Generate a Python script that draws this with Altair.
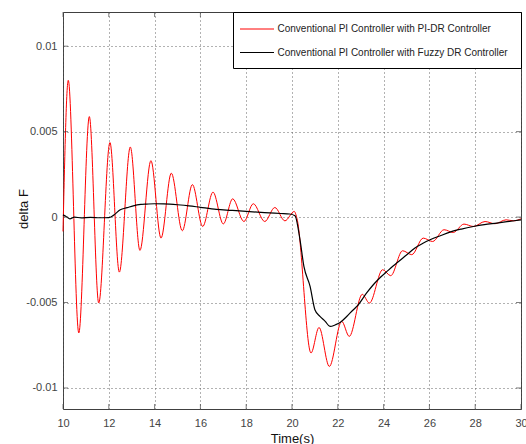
import altair as alt
import pandas as pd

# Frequency deviation responses (delta F) over time
time_pidr = [10.0, 10.23, 10.69, 11.15, 11.56, 12.05, 12.46, 12.94, 13.36, 13.84,
             14.28, 14.73, 15.21, 15.65, 16.1, 16.55, 17.0, 17.41, 17.9, 18.31,
             18.81, 19.25, 19.69, 20.1, 20.22, 20.83, 21.18, 21.63, 22.17, 22.5,
             23.07, 23.38, 23.96, 24.31, 24.83, 25.23, 25.73, 26.14, 26.64, 27.04,
             27.51, 27.92, 28.43, 28.86, 29.35, 29.67, 30.0]
delta_pidr = [-0.00084, 0.0080, -0.00678, 0.00588, -0.00503, 0.00436, -0.00322, 0.0041, -0.00195, 0.0033,
              -0.00123, 0.00257, -0.0008, 0.0019, -0.00055, 0.00146, -0.0004, 0.00107, -0.00026, 0.00078,
              -0.00026, 0.00056, -0.00022, 0.00033, -0.0001, -0.00795, -0.00646, -0.00874, -0.0061, -0.00698,
              -0.00452, -0.00503, -0.00308, -0.00343, -0.00197, -0.0022, -0.00123, -0.00143, -0.00074, -0.0009,
              -0.00041, -0.00055, -0.00026, -0.00039, -0.00016, -0.00022, -0.0001]

time_fuzzy = [10.0, 10.15, 10.3, 10.5, 10.8, 11.2, 11.6, 12.0, 12.2, 12.5,
              12.8, 13.07, 13.4, 13.65, 14.0, 14.4, 15.0, 15.5, 16.0, 16.7,
              17.4, 18.0, 18.8, 19.5, 19.9, 20.13, 20.35, 20.52, 20.79, 21.0,
              21.22, 21.45, 21.66, 21.9, 22.1, 22.4, 22.68, 22.83, 23.26, 23.55,
              23.84, 24.2, 24.57, 25.0, 25.37, 25.7, 26.03, 26.5, 26.9, 27.4,
              27.92, 28.4, 28.94, 29.5, 30.0]
delta_fuzzy = [0.00013, 0.00002, -0.0001, 0.0, -0.00005, -0.00002, -0.00004, -0.00003, 0.0001, 0.00043,
               0.00055, 0.00066, 0.00074, 0.00076, 0.00078, 0.00077, 0.00072, 0.00066, 0.00057, 0.00045,
               0.00039, 0.00033, 0.00026, 0.00021, 0.00018, 0.00008, -0.00133, -0.00289, -0.00406, -0.00542,
               -0.00581, -0.0061, -0.0064, -0.0063, -0.00617, -0.0058, -0.00542, -0.00523, -0.00444, -0.00396,
               -0.00355, -0.00312, -0.00269, -0.00222, -0.00181, -0.00155, -0.00133, -0.00108, -0.00088, -0.0007,
               -0.00055, -0.00044, -0.00035, -0.00025, -0.00016]

series_names = ["Conventional PI Controller with PI-DR Controller",
                "Conventional PI Controller with Fuzzy DR Controller"]
series_colors = ["#ff0000", "#000000"]

x_ticks = [10, 12, 14, 16, 18, 20, 22, 24, 26, 28, 30]
y_ticks = [-0.01, -0.005, 0, 0.005, 0.01]
x_domain = [10, 30]
y_domain = [-0.01123, 0.012]

W, H = 458, 397
FONT = "Liberation Sans"

pidr = pd.DataFrame({"t": time_pidr, "v": delta_pidr, "series": series_names[0]})
fuzzy = pd.DataFrame({"t": time_fuzzy, "v": delta_fuzzy, "series": series_names[1]})

color_scale = alt.Scale(domain=series_names, range=series_colors)
x_scale = alt.Scale(domain=x_domain, nice=False, zero=False)
y_scale = alt.Scale(domain=y_domain, nice=False, zero=False)

x_axis = alt.Axis(values=x_ticks, grid=True, ticks=False, domain=False, labelFlush=False,
                  labelFontSize=11, labelColor="#444", labelPadding=8, labelFont=FONT,
                  title="Time(s)", titleFont=FONT, titleFontSize=13, titleFontWeight="normal",
                  titleColor="#111", titleX=W / 2, titleY=29, titleBaseline="middle",
                  titleAlign="center")
y_axis = alt.Axis(values=y_ticks, grid=True, ticks=False, domain=False, labelFlush=False,
                  labelFontSize=11, labelColor="#444", labelPadding=6, labelFont=FONT,
                  labelExpr="toString(datum.value)",
                  title="delta F", titleFont=FONT, titleFontSize=13, titleFontWeight="normal",
                  titleColor="#111", titleX=-40, titleY=H / 2 - 2, titleAngle=-90,
                  titleBaseline="middle", titleAlign="center")

X = alt.X("t:Q", scale=x_scale, axis=x_axis)
Y = alt.Y("v:Q", scale=y_scale, axis=y_axis)


def line_layer(df, width):
    return alt.Chart(df).mark_line(strokeWidth=width, interpolate="monotone").encode(
        x=X, y=Y,
        color=alt.Color("series:N", scale=color_scale, legend=None),
    )


red_line = line_layer(pidr, 1)
black_line = line_layer(fuzzy, 1.2)

# inward tick marks on all four sides of the frame
ytick_df = pd.DataFrame({"v": y_ticks})
xtick_df = pd.DataFrame({"t": x_ticks})
tick_style = dict(color="#444", thickness=1, size=5)
y_ticks_left = alt.Chart(ytick_df).mark_tick(**tick_style).encode(y=Y, x=alt.value(2.5))
y_ticks_right = alt.Chart(ytick_df).mark_tick(**tick_style).encode(y=Y, x=alt.value(W - 2.5))
x_ticks_bottom = alt.Chart(xtick_df).mark_tick(**tick_style).encode(x=X, y=alt.value(H - 2.5))
x_ticks_top = alt.Chart(xtick_df).mark_tick(**tick_style).encode(x=X, y=alt.value(2.5))

# boxed legend in the upper right corner
legend_df = pd.DataFrame({"series": series_names, "row": [0, 1]})
legend_box = alt.Chart(alt.Data(values=[{}])).mark_rect(
    fill="white", stroke="#000", strokeWidth=1).encode(
    x=alt.value(170.5), x2=alt.value(W + 0.5), y=alt.value(0.5), y2=alt.value(56.5))

legend_rows = []
for i, ypix in enumerate([17, 40.5]):
    base = alt.Chart(legend_df).transform_filter(alt.datum.row == i)
    legend_rows.append(base.mark_rule(strokeWidth=1).encode(
        x=alt.value(177), x2=alt.value(211), y=alt.value(ypix),
        color=alt.Color("series:N", scale=color_scale, legend=None)))
    legend_rows.append(base.mark_text(align="left", baseline="middle", fontSize=10,
                                      font=FONT, color="#222").encode(
        x=alt.value(214.5), y=alt.value(ypix), text="series:N"))

chart = alt.layer(
    red_line, black_line,
    y_ticks_left, y_ticks_right, x_ticks_bottom, x_ticks_top,
    legend_box, *legend_rows,
).properties(
    width=W, height=H,
    padding={"left": 63, "top": 12, "right": 5, "bottom": 35},
    autosize=alt.AutoSizeParams(type="none"),
    background="white",
).configure_view(
    stroke="#404040", strokeWidth=1,
).configure_axis(
    gridColor="#555", gridDash=[1, 3], gridOpacity=0.9, gridWidth=1,
)

chart.save("out.html", embed_options={"renderer": "svg", "actions": False})
